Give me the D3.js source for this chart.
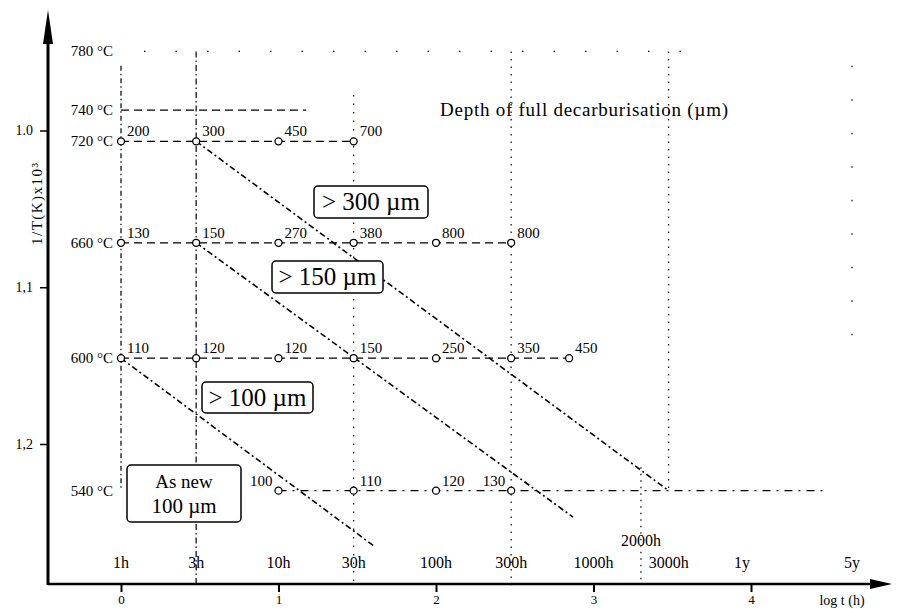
<!DOCTYPE html>
<html>
<head>
<meta charset="utf-8">
<script src="https://cdn.jsdelivr.net/npm/d3@7/dist/d3.min.js"></script>
<style>
  body { margin: 0; background: #fff; }
  svg { display: block; font-family: "Liberation Serif", "DejaVu Serif", serif; }
  text { fill: #000; }
</style>
</head>
<body>
<svg id="chart" width="901" height="609"></svg>
<script>
// temperatures (deg C) of the test rows
var temps = [720, 660, 600, 540];
// test times (h) and measured depth of full decarburisation (um), per row
var rowHours = [
  [1, 3, 10, 30],
  [1, 3, 10, 30, 100, 300],
  [1, 3, 10, 30, 100, 300, 700],
  [10, 30, 100, 300]
];
var rowDepths = [
  [200, 300, 450, 700],
  [130, 150, 270, 380, 800, 800],
  [110, 120, 120, 150, 250, 350, 450],
  [100, 110, 120, 130]
];
// points whose label sits on the left  ([row, index])
var leftLabels = [[3, 0], [3, 3]];

// time labels above the axis
var timeHours = [1, 3, 10, 30, 100, 300, 1000, 3000, 8760, 43800];
var timeLabels = ["1h", "3h", "10h", "30h", "100h", "300h", "1000h", "3000h", "1y", "5y"];
var logTicks = [1, 10, 100, 1000, 10000];
var invTicks = [1.0, 1.1, 1.2];
var invTickLabels = ["1.0", "1,1", "1,2"];
var tempLabels = [780, 740, 720, 660, 600, 540];

// boundary lines between depth zones: [hours, degC] -> [hours, degC]
var zoneLines = [
  [[3, 720], [3000, 540]],
  [[3, 660], [741, 529]],
  [[1, 600], [41, 517]]
];

var svg = d3.select("#chart");

var x = d3.scaleLog().domain([1, 10000]).range([121, 751]);
var y = d3.scaleLinear().domain([1.0, 1.2]).range([130.5, 444]);
function inv(t) { return 1000 / (t + 273.15); }
function yt(t) { return y(inv(t)); }

var axisY = 584, axisX = 48;

// ---- grid lines ----
var g = svg.append("g").attr("stroke", "#000").attr("fill", "none");

// horizontal rows: [degC, fromH, toH, dash]
var hLines = [
  [780, 1.4, 5200, "1.5,30"],
  [740, 1, 15, "8,5"],
  [720, 1, 30, "8,5"],
  [660, 1, 300, "8,5"],
  [600, 1, 700, "8,5"],
  [540, 10, 30000, "8,6,2,6"]
];
hLines.forEach(function (d) {
  g.append("line")
    .attr("x1", x(d[1])).attr("x2", x(d[2]))
    .attr("y1", yt(d[0])).attr("y2", yt(d[0]))
    .attr("stroke-width", 1.2)
    .attr("stroke-dasharray", d[3]);
});

// vertical lines: [hours, fromC, toC, dash]
var vLines = [
  [1, 770, 540, "5,3,1.5,3"],
  [3, 780, 502, "6,3,1.5,3"],
  [30, 750, 502, "1.5,7"],
  [300, 780, 502, "1.5,6"],
  [3000, 780, 540, "1.5,6"],
  [2000, 550, 503, "1.5,5"],
  [43800, 770, 600, "1.5,32"]
];
vLines.forEach(function (d) {
  g.append("line")
    .attr("x1", x(d[0])).attr("x2", x(d[0]))
    .attr("y1", yt(d[1])).attr("y2", yt(d[2]))
    .attr("stroke-width", 1.2)
    .attr("stroke-dasharray", d[3]);
});

// zone boundaries
zoneLines.forEach(function (d) {
  g.append("line")
    .attr("x1", x(d[0][0])).attr("y1", yt(d[0][1]))
    .attr("x2", x(d[1][0])).attr("y2", yt(d[1][1]))
    .attr("stroke-width", 1.6)
    .attr("stroke-dasharray", "6,3,2,3");
});

// ---- axes ----
svg.append("line").attr("x1", axisX).attr("x2", 872).attr("y1", axisY).attr("y2", axisY)
  .attr("stroke", "#000").attr("stroke-width", 2.5);
svg.append("path").attr("d", "M870," + (axisY - 5) + "L892," + axisY + "L870," + (axisY + 5) + "Z");
svg.append("line").attr("x1", axisX).attr("x2", axisX).attr("y1", axisY + 1).attr("y2", 30)
  .attr("stroke", "#000").attr("stroke-width", 3);
svg.append("path").attr("d", "M" + (axisX - 5) + ",44L" + axisX + ",10L" + (axisX + 5) + ",44Z");

var xa = svg.append("g").attr("transform", "translate(0," + axisY + ")")
  .call(d3.axisBottom(x).tickValues(logTicks).tickSize(8)
    .tickFormat(function (d) { return Math.round(Math.log10(d)); }));
xa.select(".domain").remove();
xa.selectAll("line").attr("stroke-width", 2);
xa.selectAll("text").attr("font-size", 13).attr("font-family", "Liberation Serif");

var ya = svg.append("g").attr("transform", "translate(" + axisX + ",0)")
  .call(d3.axisLeft(y).tickValues(invTicks).tickSize(8)
    .tickFormat(function (d, i) { return invTickLabels[i]; }));
ya.select(".domain").remove();
ya.selectAll("line").attr("stroke-width", 1.5);
ya.selectAll("text").attr("font-size", 14).attr("font-family", "Liberation Serif").attr("x", -15);

svg.append("text").attr("transform", "translate(42,204) rotate(-90)")
  .attr("text-anchor", "middle").attr("font-size", 15).attr("textLength", 82)
  .text("1/T(K)x10³");
svg.append("text").attr("x", 842).attr("y", 605).attr("text-anchor", "middle")
  .attr("font-size", 14).text("log t (h)");

// time labels
svg.selectAll(".tl").data(timeHours).enter().append("text")
  .attr("x", function (d) { return x(d); }).attr("y", 568)
  .attr("text-anchor", "middle").attr("font-size", 16)
  .text(function (d, i) { return timeLabels[i]; });
svg.append("text").attr("x", x(2000)).attr("y", 546).attr("text-anchor", "middle")
  .attr("font-size", 16).text("2000h");

// temperature labels
svg.selectAll(".tc").data(tempLabels).enter().append("text")
  .attr("x", 113).attr("y", function (d) { return yt(d) + 5; })
  .attr("text-anchor", "end").attr("font-size", 15)
  .text(function (d) { return d + " °C"; });

// ---- points ----
temps.forEach(function (t, r) {
  rowHours[r].forEach(function (h, i) {
    var px = x(h), py = yt(t);
    var left = leftLabels.some(function (l) { return l[0] === r && l[1] === i; });
    svg.append("circle").attr("cx", px).attr("cy", py).attr("r", 3.5)
      .attr("fill", "#fff").attr("stroke", "#000").attr("stroke-width", 1.3);
    svg.append("text").attr("x", left ? px - 6 : px + 6).attr("y", py - 5)
      .attr("text-anchor", left ? "end" : "start").attr("font-size", 15)
      .text(rowDepths[r][i]);
  });
});

// ---- annotations ----
svg.append("text").attr("x", 440).attr("y", 116).attr("font-size", 19)
  .attr("textLength", 288).text("Depth of full decarburisation (µm)");

var boxes = [
  [314, 186, 114, 32, ["> 300 µm"], [25]],
  [272, 261, 111, 32, ["> 150 µm"], [25]],
  [202, 382, 111, 31, ["> 100 µm"], [25]],
  [127, 465, 114, 57, ["As new", "100 µm"], [19, 21]]
];
boxes.forEach(function (b) {
  svg.append("rect").attr("x", b[0]).attr("y", b[1]).attr("width", b[2]).attr("height", b[3])
    .attr("rx", 4).attr("fill", "#fff").attr("stroke", "#000").attr("stroke-width", 1.5);
  if (b[4].length === 1) {
    svg.append("text").attr("x", b[0] + b[2] / 2).attr("y", b[1] + b[3] / 2 + 8)
      .attr("text-anchor", "middle").attr("font-size", b[5][0]).text(b[4][0]);
  } else {
    svg.append("text").attr("x", b[0] + b[2] / 2).attr("y", b[1] + 23)
      .attr("text-anchor", "middle").attr("font-size", b[5][0]).text(b[4][0]);
    svg.append("text").attr("x", b[0] + b[2] / 2).attr("y", b[1] + 48)
      .attr("text-anchor", "middle").attr("font-size", b[5][1]).text(b[4][1]);
  }
});
</script>
</body>
</html>
